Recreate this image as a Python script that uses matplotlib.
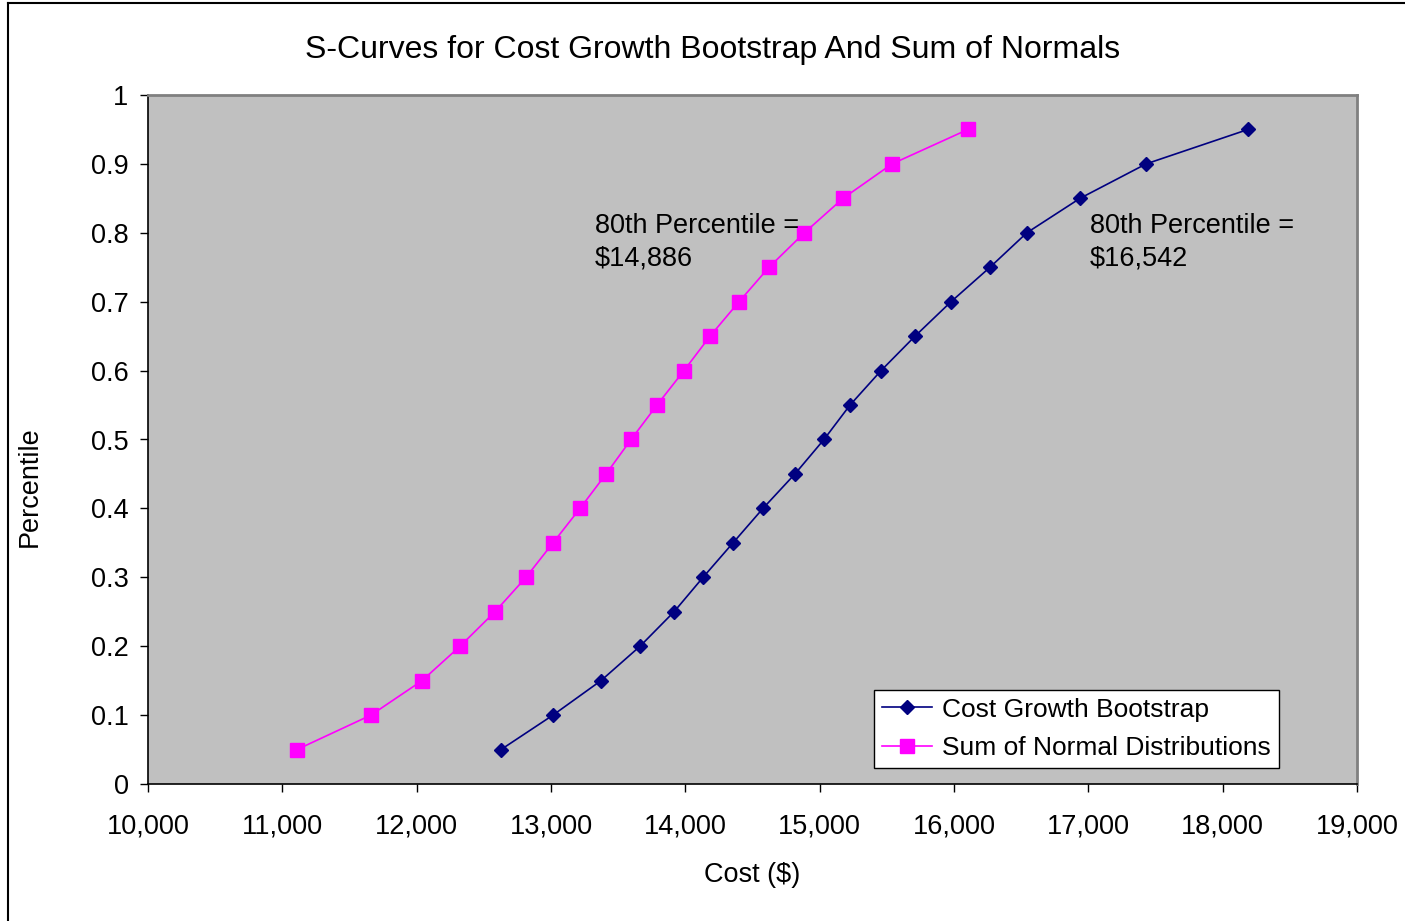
import numpy as np
import matplotlib
matplotlib.use("Agg")
import matplotlib.pyplot as plt
from matplotlib.lines import Line2D
from matplotlib.ticker import FuncFormatter

plt.rcParams['font.family'] = ['Liberation Sans', 'DejaVu Sans']

# percentile levels shared by both curves
percentiles = [0.05, 0.10, 0.15, 0.20, 0.25, 0.30, 0.35, 0.40, 0.45, 0.50,
               0.55, 0.60, 0.65, 0.70, 0.75, 0.80, 0.85, 0.90, 0.95]

# cost at each percentile
bootstrap_cost = [12628, 13015, 13372, 13663, 13916, 14132, 14355, 14578, 14816, 15032,
                  15226, 15457, 15710, 15978, 16268, 16542, 16938, 17430, 18189]
normals_cost = [11109, 11660, 12040, 12323, 12583, 12814, 13015, 13216, 13410, 13596,
                13789, 13990, 14184, 14400, 14623, 14886, 15174, 15539, 16104]

x_ticks = np.arange(10000, 19001, 1000)
y_ticks = np.round(np.arange(0, 1.01, 0.1), 1)

title = "S-Curves for Cost Growth Bootstrap And Sum of Normals"
label_bootstrap = "Cost Growth Bootstrap"
label_normals = "Sum of Normal Distributions"

fig = plt.figure(figsize=(14.05, 9.21), dpi=100)
ax = fig.add_axes([148/1405, 137/921, 1209/1405, 689/921])
ax.set_facecolor("#C0C0C0")

ax.plot(bootstrap_cost, percentiles, color="#000080", lw=1.2, marker="D",
        markersize=6.8, label=label_bootstrap)
ax.plot(normals_cost, percentiles, color="#FF00FF", lw=1.2, marker="s",
        markersize=9.4, label=label_normals)

ax.set_xlim(10000, 19000)
ax.set_ylim(0, 1)
ax.set_xticks(x_ticks)
ax.set_yticks(y_ticks)
ax.xaxis.set_major_formatter(FuncFormatter(lambda v, p: f"{int(v):,}"))
ax.yaxis.set_major_formatter(FuncFormatter(lambda v, p: f"{v:g}"))
ax.tick_params(axis="both", direction="out", length=6, width=1, labelsize=19.5, colors="black")
ax.tick_params(axis="x", pad=15)
ax.tick_params(axis="y", pad=8)

for side in ["left", "bottom"]:
    ax.spines[side].set_color("black")
    ax.spines[side].set_linewidth(1.2)
for side in ["top", "right"]:
    ax.spines[side].set_color("#808080")
    ax.spines[side].set_linewidth(2)

ax.set_xlabel("Cost ($)", fontsize=19.5)
ax.xaxis.set_label_coords(0.5, -0.113)
ax.set_ylabel("Percentile", fontsize=19.5)
ax.yaxis.set_label_coords(-0.087, 0.431)
fig.text(0.507, 0.946, title, fontsize=23, ha="center", va="center")

ax.text(13328, 0.829, "80th Percentile =\n$14,886", fontsize=19.5, va="top", ha="left", linespacing=1.35)
ax.text(17013, 0.829, "80th Percentile =\n$16,542", fontsize=19.5, va="top", ha="left", linespacing=1.35)

leg = ax.legend(loc="lower right", bbox_to_anchor=(0.9355, 0.0232), borderaxespad=0,
                fontsize=19, frameon=True, fancybox=False, edgecolor="black",
                framealpha=1, handlelength=1.9, handletextpad=0.38, borderpad=0.3,
                labelspacing=0.55)
leg.get_frame().set_linewidth(1)

# outer chart border (left and top edges visible)
fig.add_artist(Line2D([8/1405, 8/1405], [0, 1 - 3/921], color="black", lw=1.5,
                      transform=fig.transFigure))
fig.add_artist(Line2D([8/1405, 1], [1 - 3/921, 1 - 3/921], color="black", lw=1.5,
                      transform=fig.transFigure))

fig.savefig("out.png", dpi=100)
